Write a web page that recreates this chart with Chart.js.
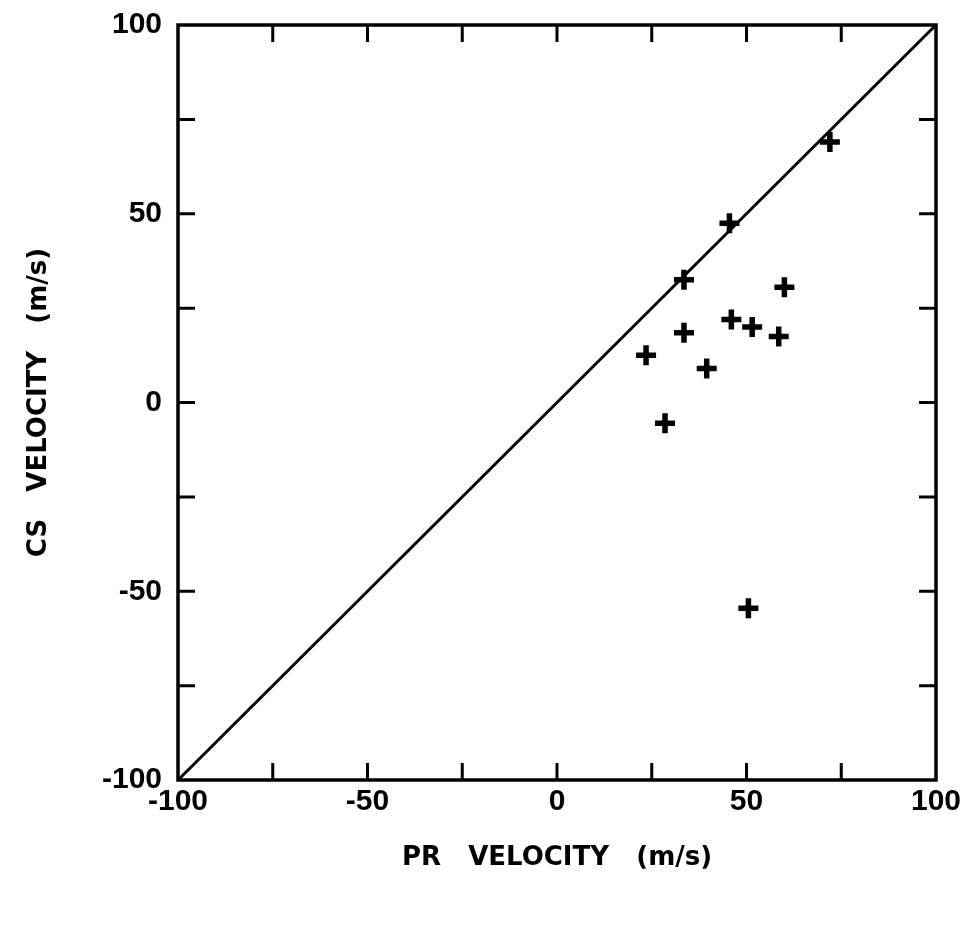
<!DOCTYPE html>
<html>
<head>
<meta charset="utf-8">
<script src="https://cdn.jsdelivr.net/npm/chart.js@4/dist/chart.umd.min.js"></script>
<style>
  body { margin: 0; background: #fff; }
  #wrap { width: 961px; height: 934px; }
</style>
</head>
<body>
<div id="wrap"><canvas id="velChart" width="961" height="934"></canvas></div>
<script>
// datos
const prVelocity = [72, 45.5, 33.5, 60, 46, 51.5, 58.5, 33.5, 23.5, 39.5, 28.5, 50.5];
const csVelocity = [69, 47.5, 32.5, 30.5, 22, 20, 17.5, 18.5, 12.5, 9, -5.5, -54.5];
const lineaIgual = [-100, 100];
const tickValores = [-100, -50, 0, 50, 100];

const puntos = prVelocity.map((v, i) => ({ x: v, y: csVelocity[i] }));
const diagonal = lineaIgual.map(v => ({ x: v, y: v }));

const fuente = "'DejaVu Sans', 'Liberation Sans', sans-serif";
const fuenteTicks = "'Liberation Sans', Arial, sans-serif";

// marco y ticks hacia adentro en los cuatro lados
const marcoPlugin = {
    id: 'marco',
    afterDraw(chart) {
        const ctx = chart.ctx;
        const a = chart.chartArea;
        const xs = chart.scales.x;
        const ys = chart.scales.y;
        const largo = 17;
        ctx.save();
        ctx.strokeStyle = '#000';
        ctx.lineWidth = 3.5;
        ctx.strokeRect(a.left, a.top, a.right - a.left, a.bottom - a.top);
        ctx.lineWidth = 3;
        for (let v = -75; v <= 75; v += 25) {
            const px = xs.getPixelForValue(v);
            ctx.beginPath();
            ctx.moveTo(px, a.bottom); ctx.lineTo(px, a.bottom - largo);
            ctx.moveTo(px, a.top); ctx.lineTo(px, a.top + largo);
            ctx.stroke();
            const py = ys.getPixelForValue(v);
            ctx.beginPath();
            ctx.moveTo(a.left, py); ctx.lineTo(a.left + largo, py);
            ctx.moveTo(a.right, py); ctx.lineTo(a.right - largo, py);
            ctx.stroke();
        }
        ctx.restore();
    }
};

const ctx = document.getElementById('velChart').getContext('2d');
new Chart(ctx, {
    type: 'scatter',
    data: {
        datasets: [{
            label: 'CS vs PR',
            data: puntos,
            pointStyle: 'cross',
            pointRadius: 10,
            pointBorderWidth: 5.5,
            borderColor: '#000',
            backgroundColor: '#000'
        }, {
            type: 'line',
            label: 'y = x',
            data: diagonal,
            borderColor: '#000',
            borderWidth: 3,
            pointRadius: 0,
            fill: false
        }]
    },
    plugins: [marcoPlugin],
    options: {
        responsive: false,
        devicePixelRatio: 1,
        animation: false,
        layout: { padding: { top: 25, right: 25, left: 0, bottom: 0 } },
        plugins: {
            legend: { display: false },
            tooltip: { enabled: false }
        },
        scales: {
            x: {
                type: 'linear',
                min: -100,
                max: 100,
                grid: { display: false, drawTicks: false },
                border: { display: false },
                afterBuildTicks: s => { s.ticks = tickValores.map(v => ({ value: v })); },
                afterFit: s => {
                    s.height = 154;
                    s.paddingLeft = 0;
                    s.paddingRight = 0;
                },
                ticks: {
                    color: '#000',
                    padding: 4,
                    font: { family: fuenteTicks, size: 30, weight: 'bold' }
                },
                title: {
                    display: true,
                    text: 'PR   VELOCITY   (m/s)',
                    color: '#000',
                    padding: { top: 0, bottom: 60 },
                    font: { family: fuente, size: 26, weight: 'bold' }
                }
            },
            y: {
                type: 'linear',
                min: -100,
                max: 100,
                grid: { display: false, drawTicks: false },
                border: { display: false },
                afterBuildTicks: s => { s.ticks = tickValores.map(v => ({ value: v })); },
                afterFit: s => {
                    s.width = 178;
                    s.paddingTop = 0;
                    s.paddingBottom = 0;
                },
                ticks: {
                    color: '#000',
                    padding: 16,
                    font: { family: fuenteTicks, size: 30, weight: 'bold' }
                },
                title: {
                    display: true,
                    text: 'CS   VELOCITY   (m/s)',
                    color: '#000',
                    padding: { top: 24, bottom: 0 },
                    font: { family: fuente, size: 26, weight: 'bold' }
                }
            }
        }
    }
});
</script>
</body>
</html>
